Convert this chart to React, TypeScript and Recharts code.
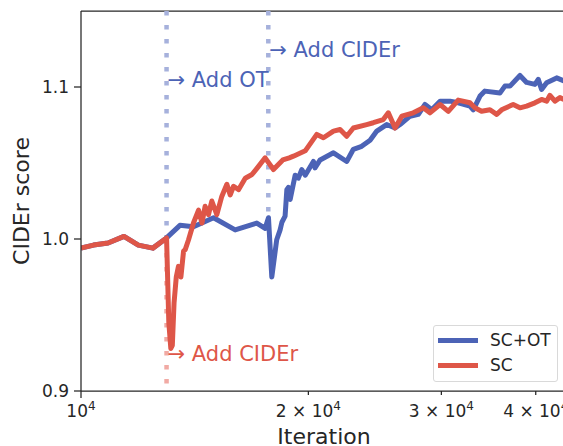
import React from 'react';
import { LineChart, Line, XAxis, YAxis, ReferenceLine, ReferenceDot, Legend } from 'recharts';

const FONT = '"DejaVu Sans", sans-serif';
const BLUE = '#4c63b6';
const RED = '#de5648';
const BLUE_DOT = '#a6b1dc';
const RED_DOT = '#f1aaa4';
const AXIS = '#262626';

// warm-up phase, identical for both runs
const warmupIter = [10000, 10390, 10860, 11400, 11910, 12450, 12980];
const warmupScore = [0.994, 0.996, 0.9974, 1.0017, 0.996, 0.994, 1.0007];

// SC+OT (OT added first, CIDEr later)
const scOtIter = [
  13520, 14090, 14980, 16000, 17090, 17530, 17710, 17890, 18160, 18350, 18450, 18630, 18730, 18820,
  18920, 19210, 19400, 19600, 19810, 20310, 20410, 20730, 21590, 22480, 22940, 23530, 24140, 24640,
  25390, 26050, 26450, 27270, 27970, 28540, 29130, 29880, 30800, 31580, 32730, 33060, 33750, 34260,
  35860, 36410, 36980, 38120, 38900, 39900, 40310, 40720, 41350, 42630, 43590,
];
const scOtScore = [
  1.009, 1.008, 1.014, 1.006, 1.0105, 1.007, 1.014, 0.975, 0.9995, 1.006, 1.011, 1.015, 1.0325, 1.034,
  1.026, 1.042, 1.04, 1.0457, 1.042, 1.051, 1.0468, 1.052, 1.0567, 1.051, 1.059, 1.061, 1.065, 1.071,
  1.0753, 1.073, 1.0753, 1.0808, 1.082, 1.0885, 1.085, 1.0907, 1.0907, 1.0896, 1.0874, 1.085, 1.094, 1.0973,
  1.096, 1.1006, 1.1006, 1.1076, 1.103, 1.1017, 1.105, 1.0984, 1.1028, 1.106, 1.104,
];

// SC (CIDEr added directly)
const scIter = [
  13070, 13150, 13210, 13280, 13370, 13460, 13560, 13670, 13740, 13880, 14090, 14310, 14460, 14600,
  14750, 14900, 15130, 15360, 15600, 15760, 15920, 16170, 16500, 16840, 17180, 17530, 17980, 18500,
  18870, 19110, 19810, 20520, 20940, 21590, 22030, 22480, 22940, 23890, 24380, 25130, 25520, 26050,
  26590, 27540, 28390, 28970, 29880, 30640, 31580, 32730, 33230, 33910, 34790, 35510, 36050, 37340,
  38120, 38900, 39900, 40720, 41350, 41770, 42410, 43060, 43590,
];
const scScore = [
  0.945, 0.928, 0.93, 0.958, 0.975, 0.982, 0.975, 0.992, 0.993, 0.9995, 1.0105, 1.019, 1.0105, 1.0215,
  1.016, 1.025, 1.016, 1.028, 1.036, 1.029, 1.0347, 1.0325, 1.04, 1.0424, 1.0478, 1.0534, 1.0457, 1.052,
  1.0534, 1.0545, 1.058, 1.0688, 1.0666, 1.071, 1.072, 1.0676, 1.073, 1.0753, 1.0765, 1.0786, 1.083, 1.073,
  1.0808, 1.083, 1.0863, 1.083, 1.0885, 1.084, 1.0914, 1.0896, 1.0863, 1.084, 1.085, 1.082, 1.085, 1.0885,
  1.0863, 1.0874, 1.0896, 1.0918, 1.0907, 1.0945, 1.0907, 1.093, 1.0918,
];

const addOtIter = 12980;
const addCiderIter = 17700;

const xTicks = [10000, 20000, 30000, 40000];
const xTickBase = ['10', '2 × 10', '3 × 10', '4 × 10'];
const yTicks = [0.9, 1.0, 1.1];

const toPoints = (xs: number[], ys: number[]) => xs.map((x, i) => ({ x, y: ys[i] }));
const warmup = toPoints(warmupIter, warmupScore);
const scOtData = [...warmup, ...toPoints(scOtIter, scOtScore)];
const scData = [...warmup, ...toPoints(scIter, scScore)];

const series = [
  { name: 'SC+OT', color: BLUE },
  { name: 'SC', color: RED },
];

const XTick = (props: any) => {
  const { x, y, payload } = props;
  const i = xTicks.indexOf(payload.value);
  const major = i === 0;
  return (
    <g>
      <line x1={x} x2={x} y1={y} y2={y + (major ? 7 : 4)} stroke={AXIS} strokeWidth={1.25} />
      <text x={x} y={y + 26} textAnchor="middle" fontSize={17} fontFamily={FONT} fill={AXIS}>
        {xTickBase[i]}
        <tspan dy={-7} fontSize={12}>4</tspan>
      </text>
    </g>
  );
};

const YLabel = (props: any) => {
  const { viewBox } = props;
  const cx = viewBox.x + 29;
  const cy = viewBox.y + viewBox.height / 2;
  return (
    <text transform={`translate(${cx},${cy}) rotate(-90)`} textAnchor="middle" fontSize={22} fontFamily={FONT} fill={AXIS}>
      CIDEr score
    </text>
  );
};

const XLabel = (props: any) => {
  const { viewBox } = props;
  return (
    <text x={viewBox.x + viewBox.width / 2} y={viewBox.y + 53} textAnchor="middle" fontSize={22} fontFamily={FONT} fill={AXIS}>
      Iteration
    </text>
  );
};

const Note = (props: any) => {
  const { viewBox, text, color } = props;
  return (
    <text x={viewBox.x + 1} y={viewBox.y} fontSize={21} fontFamily={FONT} fill={color}>
      {text}
    </text>
  );
};

const LegendBox = () => (
  <div
    style={{
      width: 125,
      height: 57,
      boxSizing: 'border-box',
      border: '1.3px solid #d9d9d9',
      borderRadius: 3,
      background: 'rgba(255,255,255,0.8)',
      position: 'relative',
      fontFamily: FONT,
      fontSize: 17,
      color: AXIS,
    }}
  >
    {series.map((s, i) => (
      <div
        key={s.name}
        style={{ position: 'absolute', left: 4, top: 3 + i * 25, height: 22, display: 'flex', alignItems: 'center' }}
      >
        <span style={{ display: 'inline-block', width: 40, height: 5, background: s.color, marginRight: 12 }} />
        <span style={{ lineHeight: '22px' }}>{s.name}</span>
      </div>
    ))}
  </div>
);

export default function App() {
  return (
    <div style={{ position: 'fixed', left: 0, top: 0, width: 563, height: 446, overflow: 'hidden', background: '#fff' }}>
      <LineChart width={600} height={446} margin={{ top: 11, right: 33, bottom: 0, left: 0 }}>
        <XAxis
          dataKey="x"
          type="number"
          scale="log"
          domain={[10000, 44000]}
          ticks={xTicks}
          allowDataOverflow
          height={55}
          tickSize={0}
          tickMargin={0}
          tickLine={false}
          tick={<XTick />}
          axisLine={{ stroke: AXIS, strokeWidth: 1.25 }}
          label={<XLabel />}
        />
        <YAxis
          type="number"
          domain={[0.9, 1.15]}
          ticks={yTicks}
          allowDataOverflow
          width={81}
          tickSize={7}
          tickMargin={5}
          tickFormatter={(v: number) => v.toFixed(1)}
          tick={{ fontSize: 17, fontFamily: FONT, fill: AXIS }}
          tickLine={{ stroke: AXIS, strokeWidth: 1.25 }}
          axisLine={{ stroke: AXIS, strokeWidth: 1.25 }}
          label={<YLabel />}
        />
        <ReferenceLine y={1.15} stroke={AXIS} strokeWidth={1.25} />
        <ReferenceLine
          segment={[{ x: addOtIter, y: 1.15 }, { x: addOtIter, y: 1.0 }]}
          stroke={BLUE_DOT}
          strokeWidth={4.5}
          strokeDasharray="4.5 9.5"
        />
        <ReferenceLine
          segment={[{ x: addOtIter, y: 1.0 }, { x: addOtIter, y: 0.9 }]}
          stroke={RED_DOT}
          strokeWidth={4.5}
          strokeDasharray="4.5 9.5"
        />
        <ReferenceLine
          segment={[{ x: addCiderIter, y: 1.15 }, { x: addCiderIter, y: 1.005 }]}
          stroke={BLUE_DOT}
          strokeWidth={4.5}
          strokeDasharray="4.5 9.5"
        />
        <Line
          data={scOtData}
          dataKey="y"
          name="SC+OT"
          type="linear"
          stroke={BLUE}
          strokeWidth={5}
          strokeLinejoin="round"
          dot={false}
          isAnimationActive={false}
        />
        <Line
          data={scData}
          dataKey="y"
          name="SC"
          type="linear"
          stroke={RED}
          strokeWidth={5}
          strokeLinejoin="round"
          dot={false}
          isAnimationActive={false}
        />
        <ReferenceDot x={addOtIter} y={1.1} r={0} stroke="none" fill="none" label={<Note text="→ Add OT" color={BLUE} />} />
        <ReferenceDot x={addCiderIter} y={1.12} r={0} stroke="none" fill="none" label={<Note text="→ Add CIDEr" color={BLUE} />} />
        <ReferenceDot x={addOtIter} y={0.92} r={0} stroke="none" fill="none" label={<Note text="→ Add CIDEr" color={RED} />} />
        <Legend
          layout="vertical"
          align="center"
          verticalAlign="middle"
          content={<LegendBox />}
          wrapperStyle={{ left: 433, top: 325, width: 125, height: 57 }}
        />
      </LineChart>
    </div>
  );
}
